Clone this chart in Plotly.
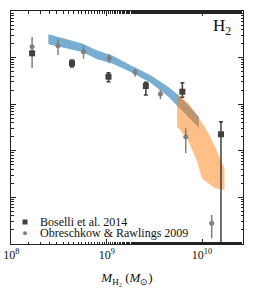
import plotly.graph_objects as go
import numpy as np

# Boselli et al. 2014 (squares)
bos_x = [1.648e8, 4.32e8, 1.044e9, 2.574e9, 6.22e9, 1.581e10]
bos_y = [0.1236, 0.0755, 0.0389, 0.02458, 0.01854, 0.00226]
bos_hi = [0.135, 0.0888, 0.0474, 0.0295, 0.0289, 0.00421]
bos_lo = [0.113, 0.0629, 0.0304, 0.01575, 0.01406, 1e-9]

# Obreschkow & Rawlings 2009 (circles)
obr_x = [1.648e8, 3.083e8, 5.71e8, 1.062e9, 1.988e9, 3.66e9, 6.75e9, 1.2636e10]
obr_y = [0.1714, 0.180, 0.1338, 0.0966, 0.0484, 0.01656, 0.002007, 2.78e-5]
obr_hi = [0.2767, 0.247, 0.1818, 0.1195, 0.0589, 0.0202, 0.00304, 4.19e-5]
obr_lo = [0.0598, 0.1137, 0.0956, 0.0754, 0.0389, 0.01274, 0.000884, 1.325e-5]

# Blue model band
blue_x = [2.44e8, 3.68e8, 5.54e8, 7.95e8, 1.142e9, 1.762e9, 2.855e9, 4.406e9, 5.473e9, 7.136e9, 9.30e9]
blue_up = [0.3162, 0.2532, 0.2017, 0.1413, 0.1115, 0.0697, 0.0423, 0.02374, 0.01656, 0.00961, 0.00531]
blue_dn = [0.1929, 0.1615, 0.1319, 0.0919, 0.0747, 0.0498, 0.02936, 0.01463, 0.00915, 0.00531, 0.003085]

# Orange model band
orng_x = [5.473e9, 5.885e9, 7.136e9, 8.861e9, 1.0e10, 1.1557e10, 1.368e10, 1.620e10, 1.72e10]
orng_up = [0.01697, 0.015, 0.0106, 0.00586, 0.00405, 0.00247, 0.001225, 0.000561, 0.000417]
orng_dn = [0.00329, 0.002795, 0.001656, 0.000601, 0.0002544, 0.0002037, 0.0001568, 0.0001478, 0.0001441]

x_ticks = [1e8, 1e9, 1e10]
x_ticktext = ["10<sup>8</sup>", "10<sup>9</sup>", "10<sup>10</sup>"]

SERIF = "Liberation Serif"
BOS_C = "#404040"
OBR_C = "#808080"

fig = go.Figure()

fig.add_trace(go.Scatter(
    x=blue_x + blue_x[::-1], y=blue_up + blue_dn[::-1],
    fill="toself", fillcolor="rgba(31,119,180,0.6)", line=dict(width=0),
    mode="lines", showlegend=False, hoverinfo="skip"))
fig.add_trace(go.Scatter(
    x=orng_x + orng_x[::-1], y=orng_up + orng_dn[::-1],
    fill="toself", fillcolor="rgba(255,127,14,0.5)", line=dict(width=0),
    mode="lines", showlegend=False, hoverinfo="skip"))

fig.add_trace(go.Scatter(
    x=obr_x, y=obr_y, mode="markers",
    marker=dict(symbol="circle", size=5, color=OBR_C),
    error_y=dict(type="data", symmetric=False,
                 array=[h - y for h, y in zip(obr_hi, obr_y)],
                 arrayminus=[y - l for y, l in zip(obr_y, obr_lo)],
                 color=OBR_C, thickness=1.5, width=0),
    showlegend=False))
fig.add_trace(go.Scatter(
    x=bos_x, y=bos_y, mode="markers",
    marker=dict(symbol="square", size=6, color=BOS_C),
    error_y=dict(type="data", symmetric=False,
                 array=[h - y for h, y in zip(bos_hi, bos_y)],
                 arrayminus=[y - l for y, l in zip(bos_y, bos_lo)],
                 color=BOS_C, thickness=1.5, width=2),
    showlegend=False))

axis_common = dict(
    type="log", showline=True, linecolor="#222", linewidth=1, mirror="allticks",
    ticks="inside", ticklen=5, tickcolor="#222", tickwidth=1, showgrid=False,
    zeroline=False, automargin=False,
    minor=dict(ticks="inside", ticklen=2.5, tickcolor="#222", tickwidth=0.8, showgrid=False),
)

fig.update_xaxes(**axis_common, range=[np.log10(0.99e8), 10.43],
                 tickvals=x_ticks, ticktext=x_ticktext,
                 tickfont=dict(family=SERIF, size=12, color="#111"),
                 title=dict(text="<i>M</i><sub>H₂</sub> (<i>M</i><sub>⊙</sub>)",
                            font=dict(family=SERIF, size=13, color="#111"), standoff=11))
fig.update_yaxes(**axis_common, range=[-5, 0], dtick=1, showticklabels=False)

# legend (drawn manually)
fig.add_shape(type="rect", xref="paper", yref="paper", x0=0.0496, x1=0.0711, y0=0.0837, y1=0.1052,
              fillcolor=BOS_C, line=dict(width=0))
fig.add_shape(type="circle", xref="paper", yref="paper", x0=0.0517, x1=0.069, y0=0.0373, y1=0.0545,
              fillcolor=OBR_C, line=dict(width=0))
fig.add_annotation(text="Boselli et al. 2014", xref="paper", yref="paper", x=0.1164, y=0.0944,
                   xanchor="left", yanchor="middle", showarrow=False,
                   font=dict(family=SERIF, size=12, color="#111"))
fig.add_annotation(text="Obreschkow &amp; Rawlings 2009", xref="paper", yref="paper", x=0.1164, y=0.0459,
                   xanchor="left", yanchor="middle", showarrow=False,
                   font=dict(family=SERIF, size=12, color="#111"))
fig.add_annotation(text="H<sub>2</sub>", xref="paper", yref="paper", x=0.957, y=0.93,
                   xanchor="right", yanchor="middle", showarrow=False,
                   font=dict(family=SERIF, size=17, color="#111"))

fig.update_layout(width=255, height=292, margin=dict(l=11, r=12, t=11, b=48),
                  plot_bgcolor="white", paper_bgcolor="white")

# remove the page's default 8px body margin so the figure sits at the window origin
fig.write_html("out.html", config={"displayModeBar": False},
               post_script="document.body.style.margin='0';document.body.style.overflow='hidden';")
